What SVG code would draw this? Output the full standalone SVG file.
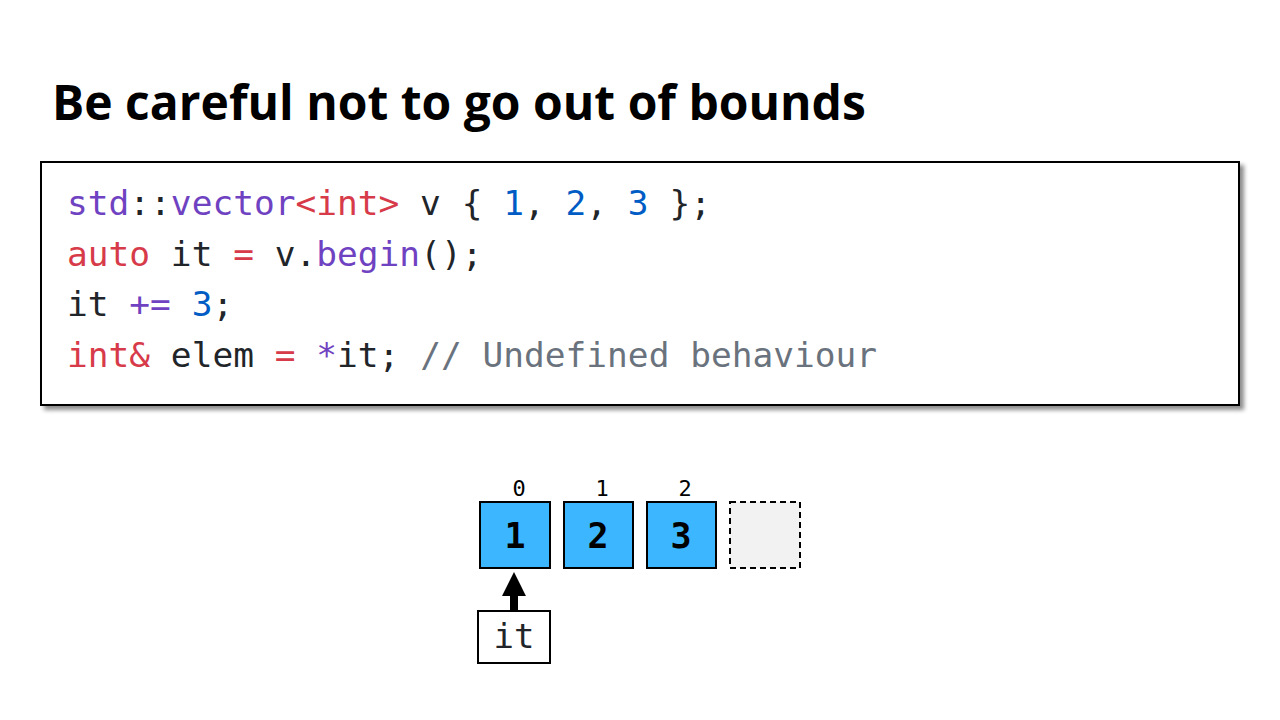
<svg xmlns="http://www.w3.org/2000/svg" width="1280" height="720" viewBox="0 0 1280 720">
<defs>
<filter id="shadow" x="-5%" y="-10%" width="110%" height="125%">
<feGaussianBlur in="SourceAlpha" stdDeviation="2"/>
<feOffset dx="4" dy="4" result="b"/>
<feFlood flood-color="#000" flood-opacity="0.45"/>
<feComposite in2="b" operator="in"/>
<feMerge><feMergeNode/><feMergeNode in="SourceGraphic"/></feMerge>
</filter>
<marker id="arrow" viewBox="0 0 10 10" refX="6.7" refY="5" markerWidth="3" markerHeight="3" orient="auto" markerUnits="strokeWidth">
<path d="M0,0 L10,5 L0,10 z" fill="#000"/>
</marker>
</defs>
<style>
.title{font-family:"Open Sans","Noto Sans",sans-serif;font-weight:bold;font-size:48px;fill:#000}
.code{font-family:"DejaVu Sans Mono",monospace;font-size:34.5px;fill:#212529;white-space:pre}
.kw{fill:#d73a49}.fn{fill:#6f42c1}.num{fill:#005cc5}.cm{fill:#6a737d}.op{fill:#d73a49}
.cell{fill:#3bb6ff;stroke:#000;stroke-width:2}
.empty{fill:#f2f2f2;stroke:#000;stroke-width:2;stroke-dasharray:6 4}
.val{font-family:"DejaVu Sans Mono",monospace;font-weight:bold;font-size:35px;fill:#000;text-anchor:middle}
.idx{font-family:"DejaVu Sans Mono",monospace;font-size:22px;fill:#000;text-anchor:middle}
.box{fill:#fff;stroke:#000;stroke-width:2}
.lbl{font-family:"DejaVu Sans Mono",monospace;font-size:34px;fill:#212529;text-anchor:middle}
</style>
<rect width="1280" height="720" fill="#fff"/>
<text class="title" x="52" y="120">Be careful not to go out of bounds</text>
<g id="code">
<rect x="41" y="162" width="1198" height="243" fill="#fff" stroke="#000" stroke-width="2" filter="url(#shadow)"/>
<text class="code" x="67" y="215"><tspan class="fn">std</tspan>::<tspan class="fn">vector</tspan><tspan class="kw">&lt;int&gt;</tspan> v { <tspan class="num">1</tspan>, <tspan class="num">2</tspan>, <tspan class="num">3</tspan> };</text>
<text class="code" x="67" y="266"><tspan class="kw">auto</tspan> it <tspan class="op">=</tspan> v.<tspan class="fn">begin</tspan>();</text>
<text class="code" x="67" y="316">it <tspan class="fn">+=</tspan> <tspan class="num">3</tspan>;</text>
<text class="code" x="67" y="367"><tspan class="kw">int&amp;</tspan> elem <tspan class="op">=</tspan> <tspan class="fn">*</tspan>it; <tspan class="cm">// Undefined behaviour</tspan></text>
</g>
<g id="cell0"><rect class="cell" x="480" y="502" width="70" height="66"/><text class="val" x="515" y="548">1</text><text class="idx" x="519" y="496">0</text></g>
<g id="cell1"><rect class="cell" x="564" y="502" width="69" height="66"/><text class="val" x="598" y="548">2</text><text class="idx" x="602" y="496">1</text></g>
<g id="cell2"><rect class="cell" x="647" y="502" width="69" height="66"/><text class="val" x="681" y="548">3</text><text class="idx" x="685" y="496">2</text></g>
<g id="cell3"><rect class="empty" x="730" y="502" width="70" height="66"/></g>
<g id="it"><rect class="box" x="478" y="611" width="72" height="52"/><text class="lbl" x="514" y="648">it</text></g>
<g id="connectors">
<line x1="514" y1="611" x2="514" y2="580" stroke="#000" stroke-width="8" marker-end="url(#arrow)"/>
</g>
</svg>
